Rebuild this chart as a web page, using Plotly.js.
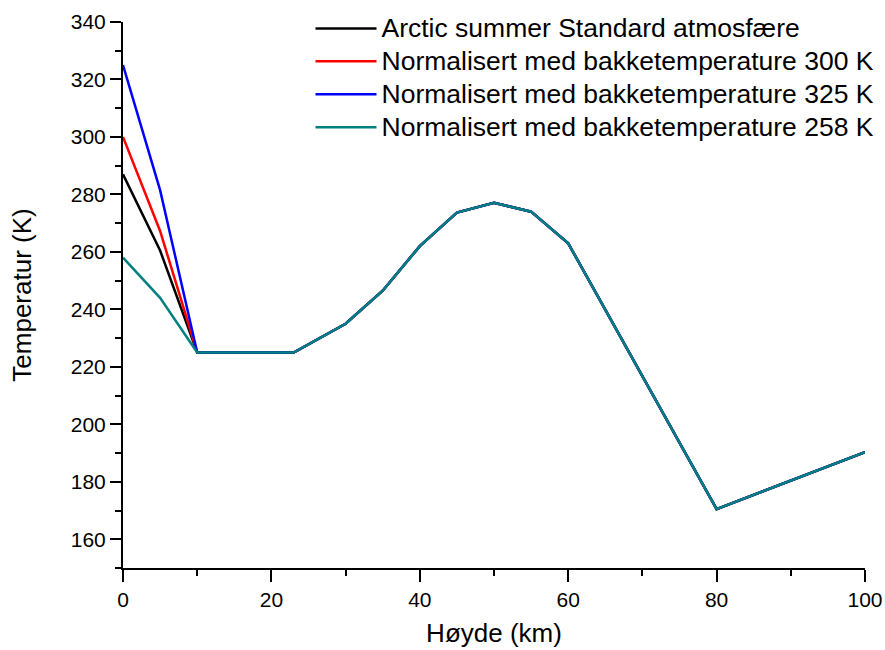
<!DOCTYPE html>
<html>
<head>
<meta charset="utf-8">
<script src="https://cdn.plot.ly/plotly-3.0.1.min.js"></script>
<style>
  html, body { margin: 0; padding: 0; background: #fff; }
  #chart { width: 885px; height: 650px; }
</style>
</head>
<body>
<div id="chart"></div>
<script>
// Altitude (km)
const altitude = [0, 5, 10, 23, 30, 35, 40, 45, 50, 55, 60, 80, 100];
// Temperature (K)
const arcticSummer = [287, 260.5, 225, 225, 235, 246.5, 262, 273.7, 277.1, 274, 263, 170.5, 190.3];
const norm300 = [300, 267.3, 225, 225, 235, 246.5, 262, 273.7, 277.1, 274, 263, 170.5, 190.3];
const norm325 = [325, 281.5, 225, 225, 235, 246.5, 262, 273.7, 277.1, 274, 263, 170.5, 190.3];
const norm258 = [258, 244, 225, 225, 235, 246.5, 262, 273.7, 277.1, 274, 263, 170.5, 190.3];

const seriesNames = [
  'Arctic summer Standard atmosfære',
  'Normalisert med bakketemperature 300 K',
  'Normalisert med bakketemperature 325 K',
  'Normalisert med bakketemperature 258 K'
];
const seriesColors = ['#000000', '#ff0000', '#0000ff', '#008080'];
const seriesValues = [arcticSummer, norm300, norm325, norm258];

const FONT = '"Liberation Sans", Arial, Helvetica, sans-serif';

const traces = seriesValues.map((vals, i) => ({
  type: 'scatter',
  mode: 'lines',
  x: altitude,
  y: vals,
  name: '<span style="font-size:26.5px">' + seriesNames[i] + '</span>',
  line: { color: seriesColors[i], width: 2.5 },
  cliponaxis: false
}));

const layout = {
  width: 885,
  height: 650,
  paper_bgcolor: '#ffffff',
  plot_bgcolor: '#ffffff',
  font: { family: FONT, color: '#000000' },
  margin: { l: 123, r: 20, t: 22, b: 82, autoexpand: false },
  showlegend: true,
  legend: {
    x: 0.2527,
    y: 1.0275,
    xanchor: 'left',
    yanchor: 'top',
    bgcolor: 'rgba(0,0,0,0)',
    borderwidth: 0,
    font: { family: FONT, size: 23, color: '#000000' },
    itemwidth: 61,
    tracegroupgap: 0
  },
  xaxis: {
    range: [0, 100],
    title: { text: 'Høyde (km)', font: { family: FONT, size: 26 }, standoff: 14 },
    showgrid: false,
    zeroline: false,
    showline: true,
    linecolor: '#000000',
    linewidth: 2,
    ticks: 'outside',
    ticklen: 12,
    tickwidth: 2,
    tickcolor: '#000000',
    tick0: 0,
    dtick: 20,
    tickfont: { family: FONT, size: 21 },
    minor: { dtick: 10, ticks: 'outside', ticklen: 6, tickwidth: 2, tickcolor: '#000000', showgrid: false },
    automargin: false
  },
  yaxis: {
    range: [150, 340],
    title: { text: 'Temperatur (K)', font: { family: FONT, size: 26 }, standoff: 32 },
    showgrid: false,
    zeroline: false,
    showline: true,
    linecolor: '#000000',
    linewidth: 2,
    ticks: 'outside',
    ticklen: 11,
    tickwidth: 2,
    tickcolor: '#000000',
    tick0: 0,
    dtick: 20,
    tickfont: { family: FONT, size: 21 },
    minor: { dtick: 10, ticks: 'outside', ticklen: 6, tickwidth: 2, tickcolor: '#000000', showgrid: false },
    automargin: false
  }
};

Plotly.newPlot('chart', traces, layout, { staticPlot: true, displayModeBar: false });
</script>
</body>
</html>
